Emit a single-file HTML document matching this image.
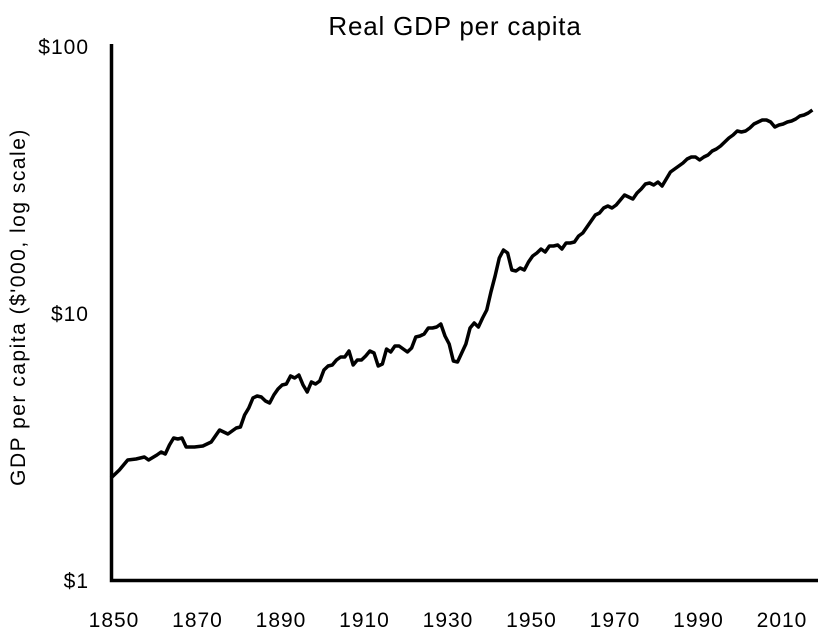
<!DOCTYPE html>
<html><head><meta charset="utf-8"><style>
html,body{margin:0;padding:0;background:#fff;}
svg{display:block;font-family:"Liberation Sans",sans-serif;}
</style></head><body>
<svg width="827" height="636" viewBox="0 0 827 636" xmlns="http://www.w3.org/2000/svg">
<text x="455" y="35" font-size="26" letter-spacing="0.8" text-anchor="middle" fill="#000">Real GDP per capita</text>
<text transform="translate(25,307) rotate(-90)" font-size="21" letter-spacing="1.5" text-anchor="middle" fill="#000">GDP per capita ($'000, log scale)</text>
<g font-size="21" letter-spacing="1" fill="#000" text-anchor="end">
<text x="89" y="54">$100</text>
<text x="89" y="321">$10</text>
<text x="89" y="588">$1</text>
</g>
<g font-size="21" letter-spacing="1" fill="#000" text-anchor="middle">
<text x="114" y="627">1850</text>
<text x="197.5" y="627">1870</text>
<text x="281" y="627">1890</text>
<text x="364.5" y="627">1910</text>
<text x="448" y="627">1930</text>
<text x="531.5" y="627">1950</text>
<text x="615" y="627">1970</text>
<text x="698.5" y="627">1990</text>
<text x="782" y="627">2010</text>
</g>
<path d="M111.5 44 V580.5 H818" fill="none" stroke="#000" stroke-width="3.5"/>
<g transform="translate(111,0) scale(4.175,1)">
<polyline fill="none" stroke="#000" stroke-width="3.5" stroke-linejoin="round" vector-effect="non-scaling-stroke" points="
0,478 2,470 4,460 6,459 8,457 9,460 11,455 12,452 13,454 14,445 15,438 16,439 17,438 18,447 20,447 22,446 24,442 26,430 27,432 28,434 30,428 31,427 32,415 33,408 34,398 35,396 36,397 37,401 38,403 39,395 40,389 41,385 42,384 43,376 44,378 45,375 46,385 47,392 48,382 49,384 50,381 51,370 52,366 53,365 54,360 55,357 56,357 57,351 58,365 59,360 60,360 61,356 62,351 63,353 64,366 65,364 66,349 67,352 68,346 69,346 70,349 71,352 72,348 73,337 74,336 75,334 76,328 77,328 78,327 79,324 80,336 81,344 82,361 83,362 84,353 85,344 86,328 87,323 88,327 89,318 90,310 91,292 92,276 93,258 94,250 95,253 96,270 97,271 98,268 99,270 100,262 101,256 102,253 103,249 104,252 105,246 106,246 107,245 108,249 109,243 110,243 111,242 112,236 113,233 114,227 115,221 116,215 117,213 118,208 119,206 120,208 121,205 122,200 123,195 124,197 125,199 126,193 127,189 128,184 129,183 130,185 131,182 132,186 133,179 134,172 135,169 136,166 137,163 138,159 139,157 140,157 141,160 142,157 143,155 144,151 145,149 146,146 147,142 148,138 149,135 150,131 151,132 152,131 153,128 154,124 155,122 156,120 157,120 158,122 159,127 160,125 161,124 162,122 163,121 164,119 165,116 166,115 167,113 168,110"/>
</g>
</svg>
</body></html>
